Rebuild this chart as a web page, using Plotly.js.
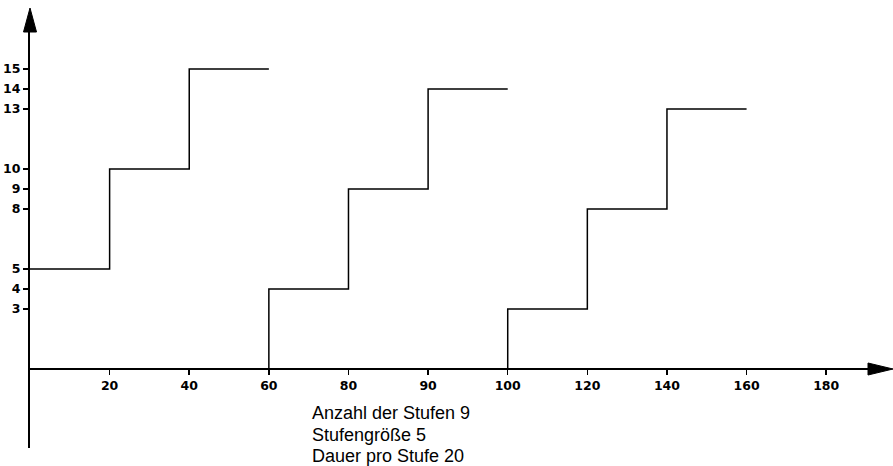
<!DOCTYPE html>
<html>
<head>
<meta charset="utf-8">
<script src="https://cdn.plot.ly/plotly-3.0.1.min.js"></script>
<style>html,body{margin:0;padding:0;background:#fff;}#chart{width:893px;height:466px;}</style>
</head>
<body>
<div id="chart"></div>
<script>
// Time positions (Dauer pro Stufe 20) and the tick labels as printed
const xTickVals = [20, 40, 60, 80, 100, 120, 140, 160, 180, 200];
const xTickText = ['20', '40', '60', '80', '90', '100', '120', '140', '160', '180'];
const yTickVals = [3, 4, 5, 8, 9, 10, 13, 14, 15];

// Step series (x = time, y = level)
const s1x = [0, 20, 40, 60];
const s1y = [5, 10, 15, 15];
const s2x = [60, 60, 80, 100, 120];
const s2y = [0, 4, 9, 14, 14];
const s3x = [120, 120, 140, 160, 180];
const s3y = [0, 3, 8, 13, 13];

const noteLines = ['Anzahl der Stufen 9', 'Stufengröße 5', 'Dauer pro Stufe 20'];

const lineStyle = {color: '#000', width: 1.5, shape: 'hv'};
const traces = [
  {x: s1x, y: s1y, mode: 'lines', line: lineStyle, hoverinfo: 'skip'},
  {x: s2x, y: s2y, mode: 'lines', line: lineStyle, hoverinfo: 'skip'},
  {x: s3x, y: s3y, mode: 'lines', line: lineStyle, hoverinfo: 'skip'}
];

const W = 838, H = 416;
const yMin = -3.95, yMax = 16.85;
const zeroPaper = (0 - yMin) / (yMax - yMin);

const noteY = [413, 435, 456];
const annotations = noteLines.map((t, i) => ({
  text: t, xref: 'paper', yref: 'paper', x: (310 - 30) / W, y: (448 - noteY[i]) / H,
  xanchor: 'left', yanchor: 'middle', showarrow: false,
  font: {family: 'Liberation Sans, Arial, sans-serif', size: 18, color: '#000'}
}));

const shapes = [
  // y-axis arrow head
  {type: 'path', xref: 'paper', yref: 'paper',
   path: `M ${-6.5 / W} 1 L ${6.5 / W} 1 L 0 ${1 + 24 / H} Z`,
   fillcolor: '#000', line: {color: '#000', width: 1}},
  // x-axis arrow head
  {type: 'path', xref: 'paper', yref: 'paper',
   path: `M 1 ${zeroPaper + 6 / H} L 1 ${zeroPaper - 6 / H} L ${1 + 25 / W} ${zeroPaper} Z`,
   fillcolor: '#000', line: {color: '#000', width: 1}}
];

const tickFont = {family: 'DejaVu Sans, sans-serif', size: 12.5, color: '#000', weight: 'bold'};

const layout = {
  width: 893, height: 466,
  margin: {l: 30, r: 25, t: 32, b: 18, pad: 0},
  paper_bgcolor: '#fff', plot_bgcolor: '#fff',
  showlegend: false,
  xaxis: {
    range: [0, 210.5], anchor: 'free', position: zeroPaper,
    showgrid: false, zeroline: false, showline: true, linecolor: '#000', linewidth: 2,
    tickmode: 'array', tickvals: xTickVals, ticktext: xTickText,
    ticks: 'outside', ticklen: 5, tickwidth: 1.5, tickcolor: '#000',
    tickfont: tickFont
  },
  yaxis: {
    range: [yMin, yMax],
    showgrid: false, zeroline: false, showline: true, linecolor: '#000', linewidth: 2,
    tickmode: 'array', tickvals: yTickVals,
    ticks: 'outside', ticklen: 5, tickwidth: 1.5, tickcolor: '#000',
    tickfont: tickFont
  },
  shapes: shapes,
  annotations: annotations
};

Plotly.newPlot('chart', traces, layout, {staticPlot: true, displayModeBar: false});
</script>
</body>
</html>
